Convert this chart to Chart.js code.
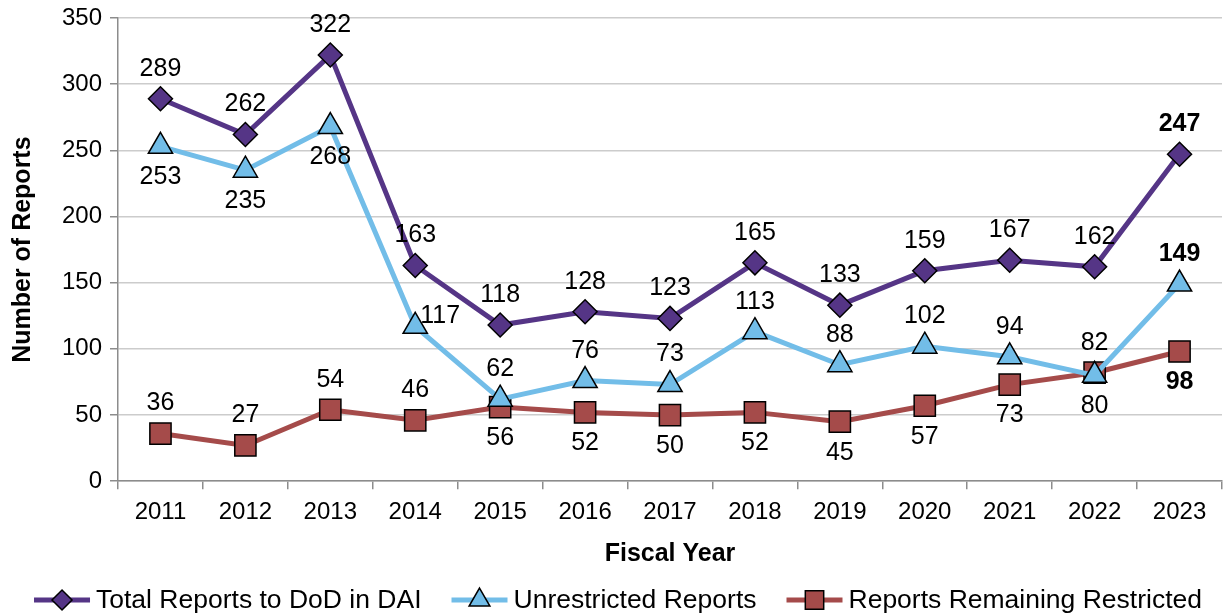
<!DOCTYPE html>
<html>
<head>
<meta charset="utf-8">
<script src="https://cdn.jsdelivr.net/npm/chart.js@4.4.0/dist/chart.umd.min.js"></script>
<style>
  html, body { margin: 0; padding: 0; background: #fff; }
  #wrap { width: 1224px; height: 615px; }
</style>
</head>
<body>
<div id="wrap"><canvas id="reportsChart" width="1224" height="615"></canvas></div>
<script>
// --- Données ---
const years = ['2011', '2012', '2013', '2014', '2015', '2016', '2017', '2018', '2019', '2020', '2021', '2022', '2023'];
const totalReports = [289, 262, 322, 163, 118, 128, 123, 165, 133, 159, 167, 162, 247];
const unrestrictedReports = [253, 235, 268, 117, 62, 76, 73, 113, 88, 102, 94, 80, 149];
const restrictedReports = [36, 27, 54, 46, 56, 52, 50, 52, 45, 57, 73, 82, 98];
const yTicks = [0, 50, 100, 150, 200, 250, 300, 350];

// placement des étiquettes : a = dessus, b = dessous, r = droite
const labelPlacement = [
  ['a', 'a', 'a', 'a', 'a', 'a', 'a', 'a', 'a', 'a', 'a', 'a', 'a'],
  ['b', 'b', 'b', 'r', 'a', 'a', 'a', 'a', 'a', 'a', 'a', 'b', 'a'],
  ['a', 'a', 'a', 'a', 'b', 'b', 'b', 'b', 'b', 'b', 'b', 'a', 'b']
];

const FONT = "'Liberation Sans', Arial, sans-serif";
const purple = '#553586';
const blue = '#72BDE8';
const red = '#A54B4A';

// --- Étiquettes de valeurs ---
const valueLabels = {
  id: 'valueLabels',
  afterDatasetsDraw(chart) {
    const ctx = chart.ctx;
    ctx.save();
    ctx.fillStyle = '#000';
    chart.data.datasets.forEach((ds, di) => {
      const meta = chart.getDatasetMeta(di);
      meta.data.forEach((pt, i) => {
        const last = i === ds.data.length - 1;
        ctx.font = (last ? 'bold ' : '') + '25px ' + FONT;
        const pos = labelPlacement[di][i];
        let x = pt.x, y = pt.y;
        ctx.textBaseline = 'middle';
        ctx.textAlign = 'center';
        if (pos === 'a') y -= 30;
        else if (pos === 'b') y += 31;
        else { x += 5; y -= 10; ctx.textAlign = 'left'; }
        ctx.fillText(String(ds.data[i]), x, y);
      });
    });
    ctx.restore();
  }
};

// --- Légende maison (ligne + marqueur) ---
const lineLegend = {
  id: 'lineLegend',
  afterDraw(chart) {
    const ctx = chart.ctx;
    const iconW = 56, textGap = 6, itemGap = 30;
    ctx.save();
    ctx.font = '26.5px ' + FONT;
    const items = chart.data.datasets.map(ds => ({ ds, w: ctx.measureText(ds.label).width }));
    const total = items.reduce((s, it) => s + iconW + textGap + it.w, 0) + itemGap * (items.length - 1);
    let x = (chart.width - total) / 2 + 6;
    const y = chart.height - 15;
    items.forEach(({ ds, w }) => {
      ctx.strokeStyle = ds.borderColor;
      ctx.lineWidth = 5;
      ctx.beginPath(); ctx.moveTo(x, y); ctx.lineTo(x + iconW, y); ctx.stroke();
      ctx.fillStyle = ds.backgroundColor;
      ctx.strokeStyle = '#000';
      ctx.lineWidth = 1.5;
      Chart.helpers.drawPoint(ctx, { pointStyle: ds.pointStyle, radius: ds.pointRadius - 2, borderWidth: 1.5 }, x + iconW / 2, y);
      ctx.fillStyle = '#000';
      ctx.textAlign = 'left';
      ctx.textBaseline = 'middle';
      ctx.fillText(ds.label, x + iconW + textGap, y + 1);
      x += iconW + textGap + w + itemGap;
    });
    ctx.restore();
  }
};

const ctx = document.getElementById('reportsChart');
new Chart(ctx, {
  type: 'line',
  data: {
    labels: years,
    datasets: [
      {
        label: 'Total Reports to DoD in DAI',
        data: totalReports,
        borderColor: purple,
        backgroundColor: purple,
        borderWidth: 5,
        pointStyle: 'rectRot',
        pointRadius: 12,
        pointHoverRadius: 12,
        pointBorderColor: '#000',
        pointBorderWidth: 1.5,
        tension: 0,
        clip: false
      },
      {
        label: 'Unrestricted Reports',
        data: unrestrictedReports,
        borderColor: blue,
        backgroundColor: blue,
        borderWidth: 5,
        pointStyle: 'triangle',
        pointRadius: 14,
        pointHoverRadius: 14,
        pointBorderColor: '#000',
        pointBorderWidth: 1.5,
        tension: 0,
        clip: false
      },
      {
        label: 'Reports Remaining Restricted',
        data: restrictedReports,
        borderColor: red,
        backgroundColor: red,
        borderWidth: 5,
        pointStyle: 'rect',
        pointRadius: 15,
        pointHoverRadius: 15,
        pointBorderColor: '#000',
        pointBorderWidth: 1.5,
        tension: 0,
        clip: false
      }
    ]
  },
  options: {
    responsive: false,
    animation: false,
    layout: { autoPadding: false, padding: { top: 2, right: 2, left: 0, bottom: 46 } },
    plugins: {
      tooltip: { enabled: false },
      legend: { display: false }
    },
    scales: {
      x: {
        offset: true,
        afterFit(scale) { scale.paddingLeft = 0; scale.paddingRight = 0; },
        grid: {
          offset: true,
          drawOnChartArea: false,
          drawTicks: true,
          tickLength: 8,
          color: '#8c8c8c',
          lineWidth: 1.5
        },
        border: { color: '#8c8c8c', width: 1.5 },
        ticks: { font: { family: FONT, size: 24 }, color: '#000', padding: 9 },
        title: {
          display: true,
          text: 'Fiscal Year',
          font: { family: FONT, size: 25, weight: 'bold' },
          color: '#000',
          padding: { top: 3, bottom: 0 }
        }
      },
      y: {
        min: 0,
        max: 350,
        afterFit(scale) { scale.width = 118; scale.paddingTop = 18; },
        afterBuildTicks(scale) { scale.ticks = yTicks.map(v => ({ value: v })); },
        grid: {
          color: '#cccccc',
          lineWidth: 1.5,
          tickLength: 8,
          tickColor: '#8c8c8c'
        },
        border: { color: '#8c8c8c', width: 1.5 },
        ticks: { font: { family: FONT, size: 24 }, color: '#000', padding: 8 },
        title: {
          display: true,
          text: 'Number of Reports',
          font: { family: FONT, size: 25, weight: 'bold' },
          color: '#000',
          padding: { top: 8, bottom: 0 }
        }
      }
    }
  },
  plugins: [valueLabels, lineLegend]
});
</script>
</body>
</html>
